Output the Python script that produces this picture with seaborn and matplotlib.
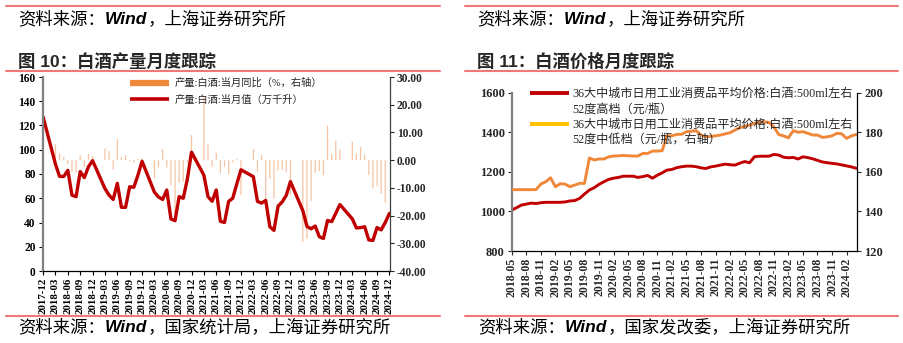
import numpy as np
import pandas as pd
import matplotlib
matplotlib.use("Agg")
import matplotlib.pyplot as plt
from matplotlib.lines import Line2D
from matplotlib.ticker import FuncFormatter, MultipleLocator
import seaborn as sns

# ---------------- 图10：白酒产量月度跟踪 ----------------
# 1-2月合并公布，故每年只有3-12月
prod_months = ["2017-12"] + [f"{y}-{m:02d}" for y in range(2018, 2025) for m in range(3, 13)]
prod_value = [  # 产量:白酒:当月值（万千升）
    127,
    88, 78, 78, 83, 62.5, 61.3, 82, 77, 86, 91,
    68, 62.5, 59, 72.3, 52.5, 52.5, 69.5, 69, 79, 90.5,
    65, 61, 59, 66.8, 42.9, 41.5, 61.3, 60, 76, 98,
    79, 61.3, 57.5, 66.8, 41, 40, 57.4, 60, 72, 83.5,
    77.8, 57.4, 56, 58.2, 36.5, 33.5, 53.5, 57, 62.5, 73.7,
    49.8, 36.8, 34.8, 37.1, 28.3, 26.8, 41.7, 40.7, 47.6, 54.8,
    43, 35.5, 35.8, 36.5, 25.6, 25.2, 35.8, 33.9, 40, 47.5,
]
prod_yoy = [  # 产量:白酒:当月同比（%）
    np.nan,
    5.8, 2.3, 1.2, -1.5, -4.3, -4.5, 1.8, -2.5, 2.2, 1.5,
    4.2, 3.3, -3.4, 7.6, 1.0, 1.8, -0.5, -1.0, 0.5, 0.6,
    -6.6, -2.6, 4.0, -2.6, -9.0, -21.0, -8.2, -7.8, -1.0, 9.0,
    23.0, 5.6, -2.4, 2.6, -4.7, -2.4, -5.1, -0.8, 0.5, -12.6,
    4.0, -4.2, 1.8, -17.4, -6.6, -13.8, -3.6, -3.6, -4.2, -12.6,
    -29.5, -28.3, -14.8, -4.6, -3.9, -5.4, 12.4, 2.3, 7.0, 3.8,
    6.6, 2.4, 4.8, 2.0, -5.3, -10.2, -9.4, -12.1, -15.4, np.nan,
]
prod_ticklabels = [p.strftime("%Y-%m") for p in pd.period_range("2017-12", "2024-12", freq="M")[::3]]
prod_labels = ["产量:白酒:当月同比（%，右轴）", "产量:白酒:当月值（万千升）"]

# ---------------- 图11：白酒价格月度跟踪 ----------------
price_start = "2018-05"
price_high = [  # 52度高档（元/瓶）
    1007, 1019, 1032, 1037, 1042, 1040, 1044, 1046, 1046, 1046,
    1046, 1048, 1053, 1055, 1066, 1088, 1108, 1120, 1137, 1150,
    1162, 1168, 1172, 1178, 1178, 1178, 1172, 1176, 1182, 1168,
    1183, 1195, 1209, 1212, 1221, 1226, 1229, 1229, 1226, 1220,
    1217, 1225, 1229, 1234, 1239, 1236, 1234, 1244, 1252, 1246,
    1276, 1279, 1279, 1279, 1288, 1285, 1274, 1271, 1273, 1265,
    1276, 1272, 1266, 1258, 1250, 1246, 1243, 1240, 1235, 1230,
    1225, 1218,
]
price_midlow = [  # 52度中低档（元/瓶，右轴）
    151, 151, 151, 151, 151, 151, 153.8, 155, 157, 152.5,
    154, 153.8, 152.5, 153.3, 154.2, 154.2, 167, 166, 166.5, 166.5,
    167.6, 168, 168.1, 168.3, 168.1, 168, 168, 169.3, 169.3, 170.5,
    170.5, 170.7, 178.2, 178.2, 178.9, 179, 180.3, 180.5, 180.8, 178.6,
    177.7, 177.9, 178.2, 178.6, 179.2, 179.8, 181.1, 182.3, 183, 183.6,
    184.5, 185, 185.3, 185, 182.8, 178.9, 178.2, 177.2, 180.8, 180,
    180.3, 179.5, 178.6, 178.6, 177.4, 177.7, 178.2, 179.5, 179.2, 176.9,
    178.2, 178.9,
]
price_months = [p.strftime("%Y-%m") for p in pd.period_range(price_start, periods=len(price_high), freq="M")]
price_ticklabels = price_months[::3][:24]
price_labels = [
    "36大中城市日用工业消费品平均价格:白酒:500ml左右", "52度高档（元/瓶）",
    "36大中城市日用工业消费品平均价格:白酒:500ml左右", "52度中低档（元/瓶，右轴）",
]

RED = "#C00000"
ORANGE = "#F0883A"
GOLD = "#FFC000"
BAR = "#F6C3A2"
RULE = "#F07878"


def month_index(s, base):
    y, m = map(int, s.split("-"))
    by, bm = map(int, base.split("-"))
    return (y - by) * 12 + (m - bm)


sns.set_theme(style="white")
plt.rcParams["font.family"] = ["Liberation Serif", "Noto Sans CJK SC"]
plt.rcParams["axes.unicode_minus"] = False

W, H = 904, 343
fig = plt.figure(figsize=(W / 100, H / 100), dpi=100)
fig.patch.set_facecolor("white")


def px_axes(x0, y0, x1, y1):
    return fig.add_axes([x0 / W, 1 - y1 / H, (x1 - x0) / W, (y1 - y0) / H])


def style_ticks(ax, size):
    for lab in ax.get_xticklabels() + ax.get_yticklabels():
        lab.set_fontweight("bold")
        lab.set_fontfamily("Liberation Serif")
        lab.set_fontsize(size)


# ---------------- left panel ----------------
df_prod = pd.DataFrame({"month": prod_months, "value": prod_value, "yoy": prod_yoy})
df_prod["x"] = [month_index(m, "2017-12") for m in df_prod["month"]]

axL = px_axes(42.7, 77, 389.8, 271)
axLr = axL.twinx()

bars = df_prod.dropna(subset=["yoy"])
sns.barplot(data=bars, x="x", y="yoy", native_scale=True, width=0.3, color=BAR,
            saturation=1, errorbar=None, linewidth=0, ax=axLr)
for p in axLr.patches:
    p.set_snap(False)
sns.lineplot(data=df_prod, x="x", y="value", color=RED, lw=2.4, ax=axL)
axL.set_zorder(axLr.get_zorder() + 1)
axL.patch.set_visible(False)

tick_pos = [month_index(t, "2017-12") for t in prod_ticklabels]
for a in (axL, axLr):
    a.set_xlim(-0.1, 84.1)
    a.set_xlabel("")
    a.set_ylabel("")
axL.set_xticks(tick_pos)
axL.set_xticklabels(prod_ticklabels, rotation=90)
axL.set_ylim(0, 160)
axL.yaxis.set_major_locator(MultipleLocator(20))
axLr.set_ylim(-40, 30)
axLr.yaxis.set_major_locator(MultipleLocator(10))
axLr.yaxis.set_major_formatter(FuncFormatter(lambda v, p: f"{v:.2f}"))

axL.tick_params(axis="both", direction="out", length=3, width=0.8, pad=2, colors="black",
                left=True, bottom=True)
axLr.tick_params(axis="y", direction="out", length=3, width=0.8, pad=2, right=True)
axLr.tick_params(axis="x", bottom=False, labelbottom=False)
for s in ("top", "right"):
    axL.spines[s].set_visible(False)
for s in ("top", "left", "bottom"):
    axLr.spines[s].set_visible(False)
axL.spines["left"].set_color("#808080")
axL.spines["left"].set_linewidth(1.6)
axL.spines["bottom"].set_color("black")
axL.spines["bottom"].set_linewidth(0.9)
axLr.spines["right"].set_color("#404040")
axLr.spines["right"].set_linewidth(0.9)
style_ticks(axL, 8.3)
style_ticks(axLr, 8.3)
for lab in axL.get_xticklabels():
    lab.set_fontsize(7.8)

hL = [Line2D([], [], color=ORANGE, lw=4.5, solid_capstyle="butt"),
      Line2D([], [], color=RED, lw=2.6, solid_capstyle="butt")]
fig.legend(hL, prod_labels, loc="upper left", bbox_to_anchor=(130 / W, 1 - 78 / H),
           bbox_transform=fig.transFigure, frameon=False, fontsize=7.4,
           handlelength=3.8, handletextpad=0.5, labelspacing=0.6,
           borderpad=0, borderaxespad=0)

# ---------------- right panel ----------------
df_price = pd.DataFrame({"month": price_months, "high": price_high, "midlow": price_midlow})
df_price["x"] = [month_index(m, price_start) for m in df_price["month"]]

axR = px_axes(511.7, 92.7, 857.3, 251)
axRr = axR.twinx()
sns.lineplot(data=df_price, x="x", y="high", color=RED, lw=2.1, ax=axR)
sns.lineplot(data=df_price, x="x", y="midlow", color=ORANGE, lw=2.1, ax=axRr)

ptick_pos = [month_index(t, price_start) for t in price_ticklabels]
for a in (axR, axRr):
    a.set_xlim(0, 71.2)
    a.set_xlabel("")
    a.set_ylabel("")
axR.set_xticks(ptick_pos)
axR.set_xticklabels(price_ticklabels, rotation=90)
axR.set_ylim(800, 1600)
axR.yaxis.set_major_locator(MultipleLocator(200))
axRr.set_ylim(120, 200)
axRr.yaxis.set_major_locator(MultipleLocator(20))

axR.tick_params(axis="both", direction="out", length=3, width=0.8, pad=2,
                left=True, bottom=True)
axRr.tick_params(axis="y", direction="out", length=3, width=0.8, pad=2, right=True)
axRr.tick_params(axis="x", bottom=False, labelbottom=False)
for s in ("top", "right"):
    axR.spines[s].set_visible(False)
for s in ("top", "left", "bottom"):
    axRr.spines[s].set_visible(False)
axR.spines["left"].set_color("#808080")
axR.spines["left"].set_linewidth(1.6)
axR.spines["bottom"].set_color("black")
axR.spines["bottom"].set_linewidth(0.9)
axRr.spines["right"].set_color("black")
axRr.spines["right"].set_linewidth(0.9)
style_ticks(axR, 9)
style_ticks(axRr, 9)
for lab in axR.get_xticklabels():
    lab.set_fontsize(8.5)

blank = Line2D([], [], color="none")
hR = [Line2D([], [], color=RED, lw=2.8, solid_capstyle="butt"), blank,
      Line2D([], [], color=GOLD, lw=2.8, solid_capstyle="butt"), blank]
fig.legend(hR, price_labels, loc="upper left", bbox_to_anchor=(530 / W, 1 - 88 / H),
           bbox_transform=fig.transFigure, frameon=False, fontsize=8.7,
           handlelength=3.2, handletextpad=0.3, labelspacing=0.28,
           borderpad=0, borderaxespad=0)

# ---------------- headers, rules and sources ----------------
for x0, x1 in [(6, 440), (465, 898)]:
    for y in (5.7, 71, 315.7):
        fig.add_artist(Line2D([x0 / W, x1 / W], [1 - y / H, 1 - y / H],
                              transform=fig.transFigure, color=RULE, lw=1.5))

SANS = ["Liberation Sans", "Noto Sans CJK SC"]
renderer = fig.canvas.get_renderer()


def source_line(x_px, y_px, tail, size=12.5):
    runs = [("资料来源：", dict(style="italic")),
            ("Wind", dict(style="italic", weight="bold")),
            (tail, dict(style="italic"))]
    x = x_px
    for txt, kw in runs:
        t = fig.text(x / W, 1 - y_px / H, txt, fontsize=size, va="center", ha="left",
                     family=SANS, color="black", **kw)
        x += t.get_window_extent(renderer).width


source_line(18, 19, "，上海证券研究所")
source_line(477, 19, "，上海证券研究所")
source_line(18, 327, "，国家统计局，上海证券研究所")
source_line(478, 327, "，国家发改委，上海证券研究所")

fig.text(18 / W, 1 - 61 / H, "图 10：白酒产量月度跟踪", fontsize=12.5, weight="bold",
         va="center", ha="left", family=SANS)
fig.text(477 / W, 1 - 61 / H, "图 11：白酒价格月度跟踪", fontsize=12.5, weight="bold",
         va="center", ha="left", family=SANS)

fig.savefig("out.png", dpi=100, facecolor="white")
